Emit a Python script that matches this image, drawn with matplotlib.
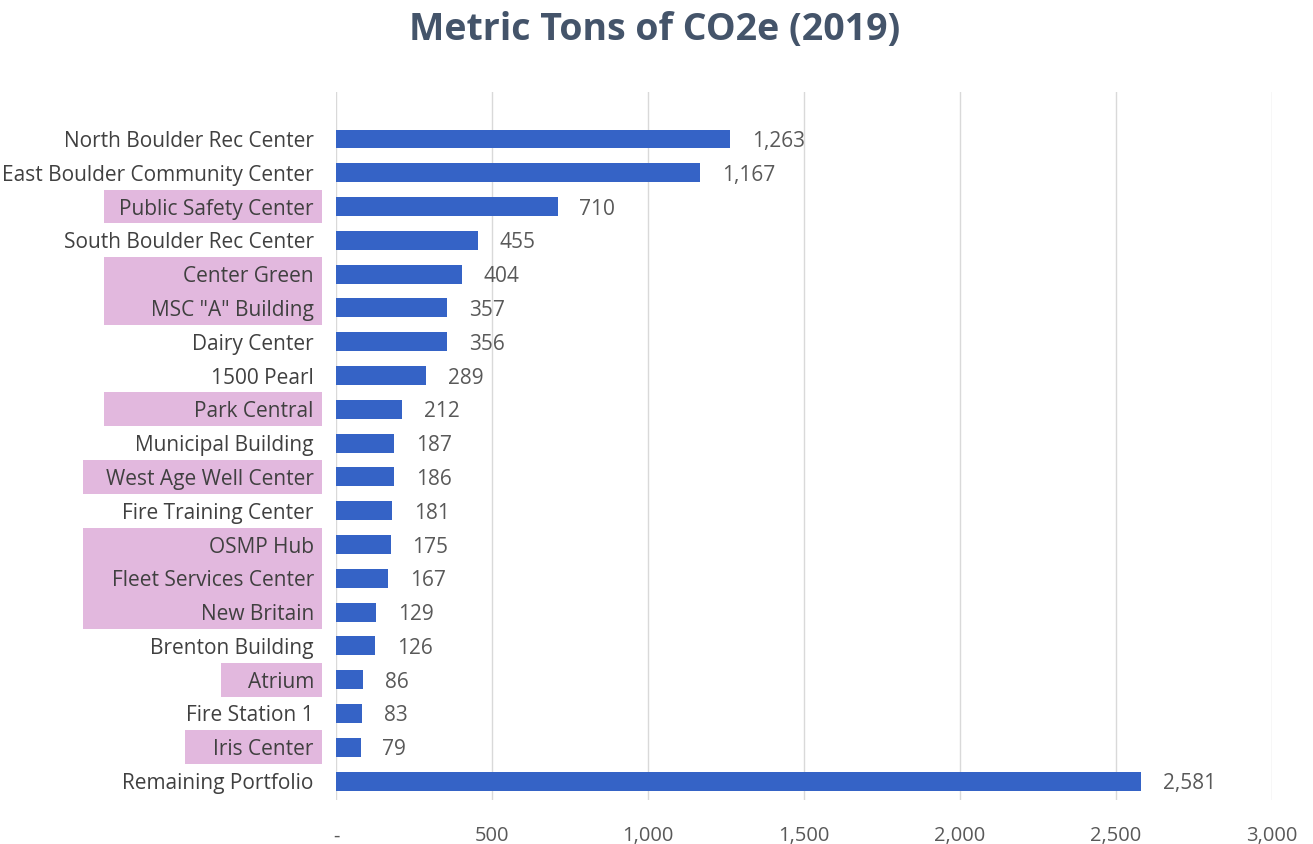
import matplotlib.pyplot as plt
import matplotlib.transforms as mtransforms
from matplotlib.patches import Rectangle
from matplotlib.ticker import FuncFormatter

plt.rcParams['font.family'] = ['Open Sans', 'DejaVu Sans']

# data
buildings = ["North Boulder Rec Center", "East Boulder Community Center",
             "Public Safety Center", "South Boulder Rec Center", "Center Green",
             'MSC "A" Building', "Dairy Center", "1500 Pearl", "Park Central",
             "Municipal Building", "West Age Well Center", "Fire Training Center",
             "OSMP Hub", "Fleet Services Center", "New Britain", "Brenton Building",
             "Atrium", "Fire Station 1", "Iris Center", "Remaining Portfolio"]
tons = [1263, 1167, 710, 455, 404, 357, 356, 289, 212, 187,
        186, 181, 175, 167, 129, 126, 86, 83, 79, 2581]
xticks = [0, 500, 1000, 1500, 2000, 2500, 3000]

# highlighted label groups: (first row, last row, box left edge in fig px)
highlights = [(2, 2, 104), (4, 5, 104), (8, 8, 104), (10, 10, 83),
              (12, 14, 83), (16, 16, 221), (18, 18, 185)]

W, H = 1313, 844
fig = plt.figure(figsize=(W / 100, H / 100), dpi=100)
ax = fig.add_axes([336 / W, 1 - 800 / H, 936 / W, 708 / H])

pos = list(range(len(buildings)))
ax.barh(pos, tons, height=0.56, color='#3563c6', zorder=3)
for p, v in zip(pos, tons):
    ax.text(v + 70, p, f"{v:,}", va='center_baseline', ha='left', fontsize=15,
            color='#595959')

ax.set_ylim(len(buildings) - 0.44, -1.39)
ax.set_xlim(0, 3000)
ax.set_xticks(xticks)
ax.xaxis.set_major_formatter(FuncFormatter(lambda v, _: '-' if v == 0 else f"{int(v):,}"))
ax.set_yticks(pos)
ax.set_yticklabels(buildings)
ax.tick_params(axis='y', length=0, pad=16, labelsize=15, labelcolor='#404040')
ax.tick_params(axis='x', length=0, pad=19, labelsize=14.5, labelcolor='#595959')
ax.grid(axis='x', color='#d9d9d9', linewidth=1, zorder=0)
for s in ax.spines.values():
    s.set_visible(False)

# pink boxes behind the highlighted labels
trans = mtransforms.blended_transform_factory(fig.dpi_scale_trans, ax.transData)
for first, last, left in highlights:
    rect = Rectangle((left / 100, last + 0.5), (322 - left) / 100, -(last - first + 1),
                     transform=trans, facecolor='#e2b8de', edgecolor='none',
                     zorder=-1, clip_on=False)
    fig.patches.append(rect)

fig.text(655 / W, 1 - 30 / H, "Metric Tons of CO2e (2019)", ha='center', va='center',
         fontsize=27, fontweight='bold', color='#44546a')

fig.savefig('out.png', dpi=100)
